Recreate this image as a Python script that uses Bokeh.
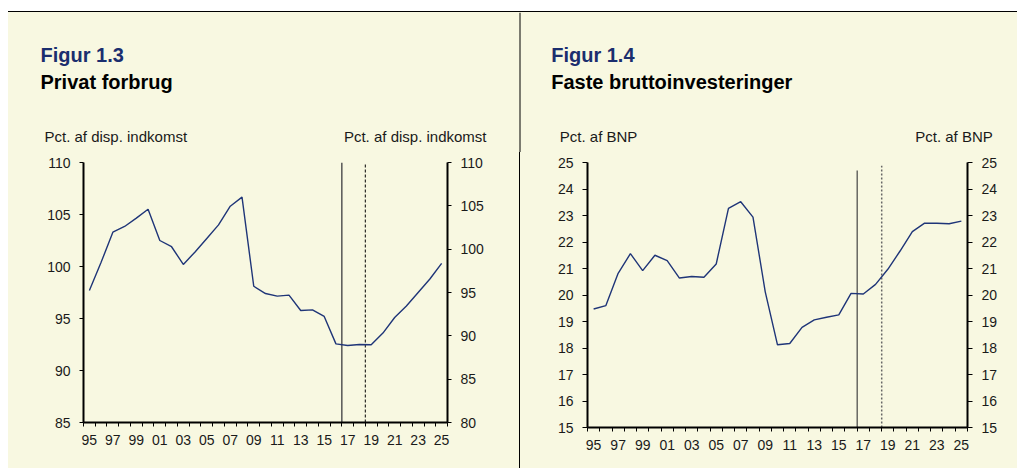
from bokeh.plotting import figure
from bokeh.models import (Range1d, LinearAxis, FixedTicker, Div)
from bokeh.layouts import column, row
from bokeh.core.properties import value
from bokeh.embed import file_html
from bokeh.resources import INLINE

# ---------------- data ----------------
years = list(range(1995, 2026))
privat_forbrug = [97.7, 100.4, 103.3, 103.85, 104.65, 105.5, 102.5, 101.9, 100.2, 101.4,
                  102.7, 104.0, 105.8, 106.67, 98.1, 97.4, 97.15, 97.25, 95.77, 95.83,
                  95.2, 92.56, 92.4, 92.5, 92.47, 93.6, 95.1, 96.2, 97.5, 98.8, 100.3]
investeringer = [19.47, 19.6, 20.82, 21.56, 20.92, 21.5, 21.3, 20.64, 20.7, 20.67,
                 21.17, 23.27, 23.52, 22.94, 20.12, 18.12, 18.17, 18.78, 19.06, 19.16,
                 19.25, 20.06, 20.04, 20.4, 20.97, 21.66, 22.39, 22.71, 22.71, 22.69, 22.79]
label_years = list(range(1995, 2026, 2))
year_labels = ["95", "97", "99", "01", "03", "05", "07", "09", "11", "13", "15",
               "17", "19", "21", "23", "25"]
# vertical markers: [year position, line top]
left_solid = [2016.5, 110]
left_dashed = [2018.5, 110]
right_solid = [2016.5, 24.7]
right_dashed = [2018.5, 24.88]

left_ticks_l = [85, 90, 95, 100, 105, 110]
left_ticks_r = [80, 85, 90, 95, 100, 105, 110]
right_ticks = list(range(15, 26))

fig_numbers = ["Figur 1.3", "Figur 1.4"]
fig_names = ["Privat forbrug", "Faste bruttoinvesteringer"]
units = ["Pct. af disp. indkomst", "Pct. af BNP"]

# ---------------- style ----------------
CREAM = "#F8F8E1"
NAVY = "#1F3578"
TITLE_BLUE = "#1B2E6E"
FONT = "Liberation Sans"
TXT = "#1a1a1a"
HEADER_H = 140
W_LEFT, W_RIGHT = 511, 497


def style_axis(ax, ticks, tick_len=4):
    ax.ticker = FixedTicker(ticks=ticks)
    ax.axis_line_width = 2
    ax.axis_line_color = "black"
    ax.major_tick_line_color = "black"
    ax.major_tick_in = 0
    ax.major_tick_out = tick_len
    ax.minor_tick_line_color = None
    ax.major_label_text_font = FONT
    ax.major_label_text_font_size = "14px"
    ax.major_label_text_color = TXT
    ax.major_label_standoff = 9


def make_fig(width, fw, fh, bl, br, bt, bb, y0, y1):
    p = figure(width=width, height=456 - HEADER_H, frame_width=fw, frame_height=fh,
               min_border_left=bl, min_border_right=br, min_border_top=bt,
               min_border_bottom=bb, x_range=Range1d(1994.5, 2025.5),
               y_range=Range1d(y0, y1), output_backend="svg",
               toolbar_location=None, title=None, x_axis_location=None,
               y_axis_location=None)
    p.background_fill_color = CREAM
    p.border_fill_color = CREAM
    p.outline_line_color = None
    p.grid.visible = False
    xa = LinearAxis()
    xa.ticker = FixedTicker(ticks=label_years,
                            minor_ticks=[y - 0.5 for y in years] + [2025.5])
    xa.major_label_overrides = {y: l for y, l in zip(label_years, year_labels)}
    xa.axis_line_width = 2
    xa.axis_line_color = "black"
    xa.major_tick_in = 0
    xa.major_tick_out = 0
    xa.minor_tick_in = 0
    xa.minor_tick_out = 4
    xa.minor_tick_line_color = "black"
    xa.major_label_text_font = FONT
    xa.major_label_text_font_size = "14px"
    xa.major_label_text_color = TXT
    xa.major_label_standoff = 8
    p.add_layout(xa, "below")
    return p


# ---------------- header (titles for both panels) ----------------
HW = W_LEFT + 1 + W_RIGHT
h = figure(width=HW, height=HEADER_H, x_range=Range1d(0, HW),
           y_range=Range1d(HEADER_H, 0), output_backend="svg",
           toolbar_location=None, title=None, x_axis_location=None,
           y_axis_location=None, min_border=0, min_border_left=0,
           min_border_right=0, min_border_top=0, min_border_bottom=0)
h.background_fill_color = CREAM
h.border_fill_color = CREAM
h.outline_line_color = None
h.grid.visible = False
title_x = [32, 542.7]
unit_left_x = [36, 551.3]
unit_right_x = [478, 984.3]
h.text(x=title_x, y=[42.2, 42.2], text=fig_numbers, text_font=value(FONT),
       text_font_size="20px", text_font_style="bold", text_color=TITLE_BLUE,
       text_baseline="alphabetic")
h.text(x=title_x, y=[69.5, 69.5], text=fig_names, text_font=value(FONT),
       text_font_size="20px", text_font_style="bold", text_color="black",
       text_baseline="alphabetic")
h.text(x=unit_left_x, y=[123.5, 123.5], text=units, text_font=value(FONT),
       text_font_size="15px", text_color=TXT, text_baseline="alphabetic")
h.text(x=unit_right_x, y=[123.5, 123.5], text=units, text_font=value(FONT),
       text_font_size="15px", text_color=TXT, text_baseline="alphabetic",
       text_align="right")
h.quad(left=[W_LEFT], right=[W_LEFT + 1], top=[0], bottom=[HEADER_H],
       fill_color="black", line_color=None)

# ---------------- left chart ----------------
p1 = make_fig(W_LEFT, 364, 260, 75, 72, 10, 46, 85, 110)
p1.extra_y_ranges = {"r": Range1d(80, 110)}
la = LinearAxis()
style_axis(la, left_ticks_l)
p1.add_layout(la, "left")
ra = LinearAxis(y_range_name="r")
style_axis(ra, left_ticks_r)
p1.add_layout(ra, "right")
p1.segment(x0=[left_solid[0]], y0=[85], x1=[left_solid[0]], y1=[left_solid[1]],
           line_color="#555555", line_width=1.5)
p1.segment(x0=[left_dashed[0]], y0=[85], x1=[left_dashed[0]], y1=[left_dashed[1]],
           line_color="black", line_width=1, line_dash="3 2")
p1.line(years, privat_forbrug, line_color=NAVY, line_width=1.4)

# ---------------- right chart ----------------
p2 = make_fig(W_RIGHT, 380, 265, 67, 50, 10, 41, 15, 25)
p2.extra_y_ranges = {"r": Range1d(15, 25)}
la2 = LinearAxis()
style_axis(la2, right_ticks, 5)
p2.add_layout(la2, "left")
ra2 = LinearAxis(y_range_name="r")
style_axis(ra2, right_ticks, 5)
p2.add_layout(ra2, "right")
p2.segment(x0=[right_solid[0]], y0=[15], x1=[right_solid[0]], y1=[right_solid[1]],
           line_color="#444444", line_width=1.2)
p2.segment(x0=[right_dashed[0]], y0=[15], x1=[right_dashed[0]], y1=[right_dashed[1]],
           line_color="#666666", line_width=1.5, line_dash="2 2")
p2.line(years, investeringer, line_color=NAVY, line_width=1.4)

# ---------------- layout ----------------
spacer = Div(text="", width=1017, height=11, margin=0)
leftpad = Div(text="", width=8, height=457, margin=0)
topline = Div(text="", width=HW, height=1, margin=0,
              styles={"background-color": "black"})
divider = Div(text="", width=1, height=456 - HEADER_H, margin=0,
              styles={"background-color": "black"})
charts = row(p1, divider, p2, spacing=0, styles={"background-color": CREAM})
body = column(topline, h, charts, spacing=0, styles={"background-color": CREAM})
layout = column(spacer, row(leftpad, body, spacing=0), spacing=0)

open("out.html", "w").write(file_html(layout, INLINE))
